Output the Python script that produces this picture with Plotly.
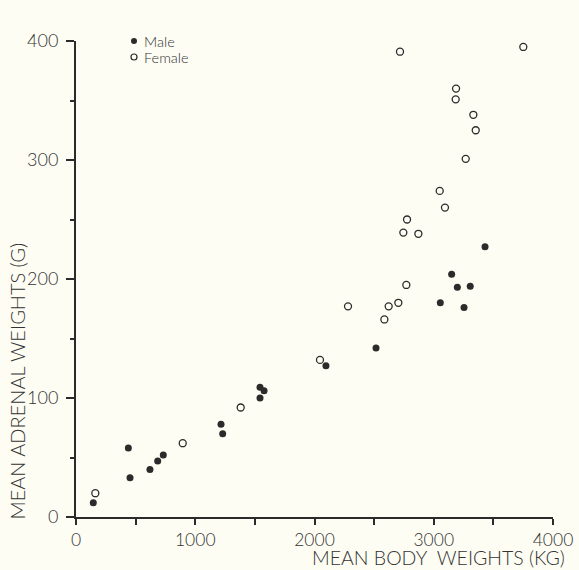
import plotly.graph_objects as go

# Male: mean body weight (kg) and mean adrenal weight (g)
male_body = [145, 439, 453, 620, 685, 732, 1216, 1230, 1543, 1543, 1577,
             2096, 2516, 3055, 3254, 3150, 3198, 3306, 3430]
male_adrenal = [12, 58, 33, 40, 47, 52, 78, 70, 109, 100, 106,
                127, 142, 180, 176, 204, 193, 194, 227]

# Female
female_body = [162, 895, 1381, 2046, 2281, 2586, 2622, 2703, 2770, 2745, 2871,
               2776, 3094, 3050, 3268, 3352, 3332, 3184, 3187, 2717, 3751]
female_adrenal = [20, 62, 92, 132, 177, 166, 177, 180, 195, 239, 238,
                  250, 260, 274, 301, 325, 338, 351, 360, 391, 395]

x_ticks = [0, 1000, 2000, 3000, 4000]
y_ticks = [0, 100, 200, 300, 400]
legend_labels = ["Male", "Female"]

ink = "#2b2b2b"
txt = "#333333"
bg = "#fdfdf3"
font_family = "Lato, 'DejaVu Sans', sans-serif"

W, H = 579, 570
L, T = 76, 41
plot_w = 477
plot_h = 476
R = W - L - plot_w
B = H - T - plot_h

fig = go.Figure()
fig.add_trace(go.Scatter(
    x=male_body, y=male_adrenal, mode="markers", name=legend_labels[0],
    marker=dict(symbol="circle", size=7, color=ink, line=dict(width=0)),
))
fig.add_trace(go.Scatter(
    x=female_body, y=female_adrenal, mode="markers", name=legend_labels[1],
    marker=dict(symbol="circle", size=7, color=bg, line=dict(width=1.3, color=ink)),
))


def px_to_paper_x(px):
    return (px - L) / plot_w


def py_to_paper_y(py):
    return (T + plot_h - py) / plot_h


# manual legend (paper coordinates relative to plot area)
shapes = []
annotations = []
for i, (lab, filled) in enumerate(zip(legend_labels, [True, False])):
    cy = 41 + 16 * i
    cx = 134
    r = 3
    shapes.append(dict(
        type="circle", xref="paper", yref="paper",
        x0=px_to_paper_x(cx - r), x1=px_to_paper_x(cx + r),
        y0=py_to_paper_y(cy + r), y1=py_to_paper_y(cy - r),
        fillcolor=ink if filled else bg,
        line=dict(color=ink, width=0 if filled else 1.2),
    ))
    annotations.append(dict(
        text=lab, xref="paper", yref="paper",
        x=px_to_paper_x(142), y=py_to_paper_y(cy), xanchor="left", yanchor="middle",
        showarrow=False, font=dict(size=14.5, color=txt, weight=300),
    ))

annotations += [
    dict(text="MEAN BODY  WEIGHTS (KG)", xref="paper", yref="paper",
         x=px_to_paper_x(567), y=py_to_paper_y(557.5), xanchor="right", yanchor="middle",
         showarrow=False, font=dict(size=19.5, color=txt, weight=300)),
    dict(text="MEAN ADRENAL WEIGHTS (G)", xref="paper", yref="paper",
         x=px_to_paper_x(16), y=py_to_paper_y(522), xanchor="center", yanchor="bottom",
         textangle=-90, showarrow=False, font=dict(size=20, color=txt, weight=300)),
]

fig.update_layout(
    width=W, height=H,
    margin=dict(l=L, r=R, t=T, b=B, pad=0, autoexpand=False),
    paper_bgcolor=bg, plot_bgcolor=bg,
    font=dict(family=font_family, color=txt, size=18),
    showlegend=False,
    shapes=shapes,
    annotations=annotations,
    xaxis=dict(range=[0, 4000], tickvals=x_ticks, ticktext=[str(v) for v in x_ticks],
               automargin=False,
               showgrid=False, zeroline=False, showline=True, linecolor=ink, linewidth=2,
               ticks="outside", ticklen=6, tickwidth=2, tickcolor=ink,
               minor=dict(dtick=500, ticks="outside", ticklen=6, tickwidth=2, tickcolor=ink),
               ticklabelstandoff=0,
               tickfont=dict(size=17.5, color=txt, weight=300)),
    yaxis=dict(range=[0, 400], tickvals=y_ticks, ticktext=[str(v) for v in y_ticks],
               automargin=False,
               showgrid=False, zeroline=False, showline=True, linecolor=ink, linewidth=2,
               ticks="outside", ticklen=8, tickwidth=2, tickcolor=ink,
               minor=dict(dtick=50, ticks="outside", ticklen=4, tickwidth=2, tickcolor=ink),
               ticklabelstandoff=4,
               tickfont=dict(size=18, color=txt, weight=300)),
)

fig.write_html("out.html", config={"displayModeBar": False},
               post_script="document.body.style.margin='0';")
